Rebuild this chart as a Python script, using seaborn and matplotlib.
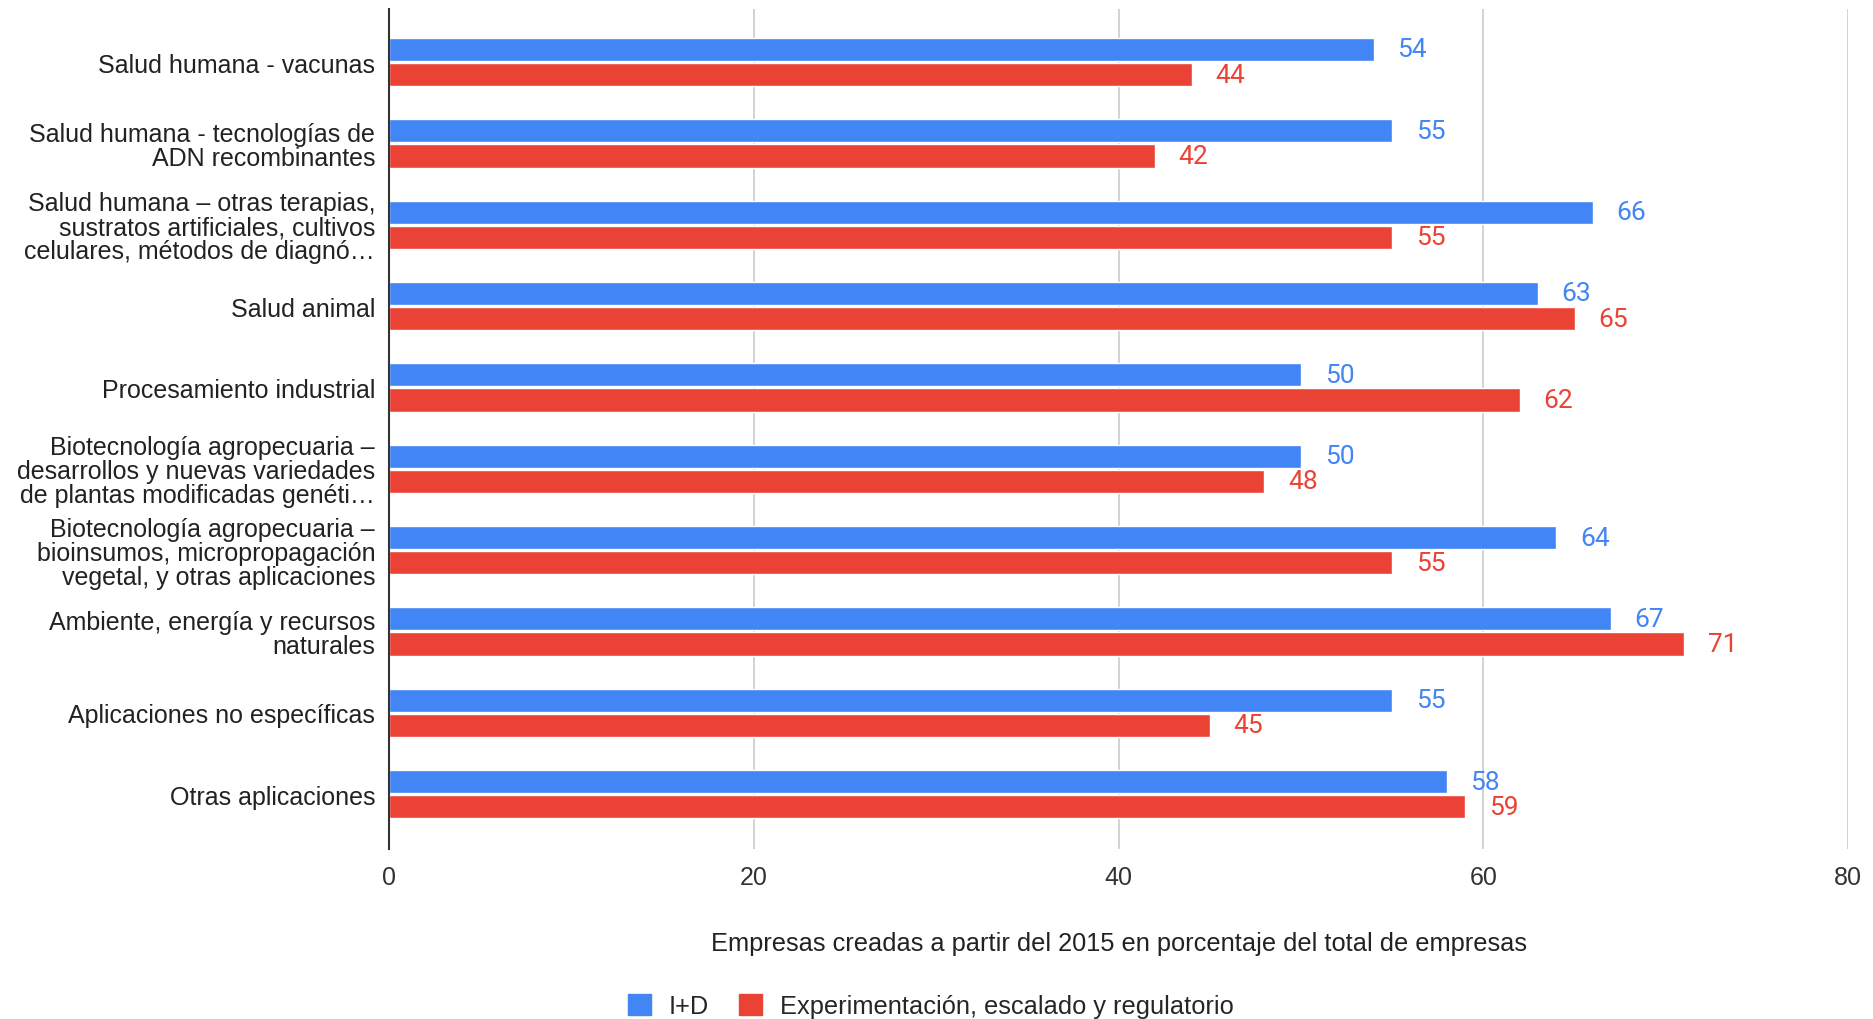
import pandas as pd
import numpy as np
import matplotlib
matplotlib.use("Agg")
import matplotlib.pyplot as plt
import seaborn as sns

categorias = [
    "Salud humana - vacunas",
    "Salud humana - tecnologías de\nADN recombinantes",
    "Salud humana – otras terapias,\nsustratos artificiales, cultivos\ncelulares, métodos de diagnó…",
    "Salud animal",
    "Procesamiento industrial",
    "Biotecnología agropecuaria –\ndesarrollos y nuevas variedades\nde plantas modificadas genéti…",
    "Biotecnología agropecuaria –\nbioinsumos, micropropagación\nvegetal, y otras aplicaciones",
    "Ambiente, energía y recursos\nnaturales",
    "Aplicaciones no específicas",
    "Otras aplicaciones",
]
id_vals = [54, 55, 66, 63, 50, 50, 64, 67, 55, 58]
exp_vals = [44, 42, 55, 65, 62, 48, 55, 71, 45, 59]
series = ["I+D", "Experimentación, escalado y regulatorio"]
xticks = [0, 20, 40, 60, 80]

BLUE = "#4285F4"
RED = "#EA4335"

df = pd.DataFrame({
    "Categoria": categorias * 2,
    "Serie": [series[0]] * len(categorias) + [series[1]] * len(categorias),
    "Valor": id_vals + exp_vals,
})

sns.set_theme(style="white")
plt.rcParams["font.family"] = ["Liberation Sans", "DejaVu Sans"]

fig = plt.figure(figsize=(18.73, 10.20), dpi=100)
ax = fig.add_axes([0.2077, 0.167, 0.779, 0.823])

sns.barplot(data=df, y="Categoria", x="Valor", hue="Serie", orient="h",
            palette=[BLUE, RED], width=0.62, gap=0.08, ax=ax,
            legend=True, saturation=1)

# etiquetas de valor
for cont, col in zip(ax.containers, [BLUE, RED]):
    ax.bar_label(cont, labels=[f"{v:g}" for v in cont.datavalues], padding=17,
                 color=col, fontsize=19, family="Roboto")

ax.set_xlim(0, 80)
ax.set_ylim(len(categorias) - 0.33, -0.65)
ax.set_xticks(xticks)
ax.set_xticklabels([str(t) for t in xticks], fontsize=18, color="#333333")
ax.tick_params(axis="x", length=0, pad=12)
ax.tick_params(axis="y", length=0, pad=10, labelsize=18, labelcolor="#222222")
for lab in ax.get_yticklabels():
    lab.set_linespacing(1.0)

ax.grid(axis="x", color="#cccccc", linewidth=1.2)
ax.set_axisbelow(True)
for s in ["top", "right", "bottom"]:
    ax.spines[s].set_visible(False)
ax.spines["left"].set_color("#333333")
ax.spines["left"].set_linewidth(1.5)

ax.set_ylabel("")
ax.set_xlabel("Empresas creadas a partir del 2015 en porcentaje del total de empresas",
              fontsize=18.3, color="#222222", labelpad=30)

ax.get_legend().remove()
handles = [plt.Rectangle((0, 0), 1, 1, color=BLUE), plt.Rectangle((0, 0), 1, 1, color=RED)]
fig.legend(handles, series, loc="center", bbox_to_anchor=(0.497, 0.013), ncol=2,
           frameon=False, fontsize=18.3, handlelength=0.9, handleheight=0.9,
           handletextpad=0.7, columnspacing=1.2)

fig.savefig("out.png", dpi=100)
